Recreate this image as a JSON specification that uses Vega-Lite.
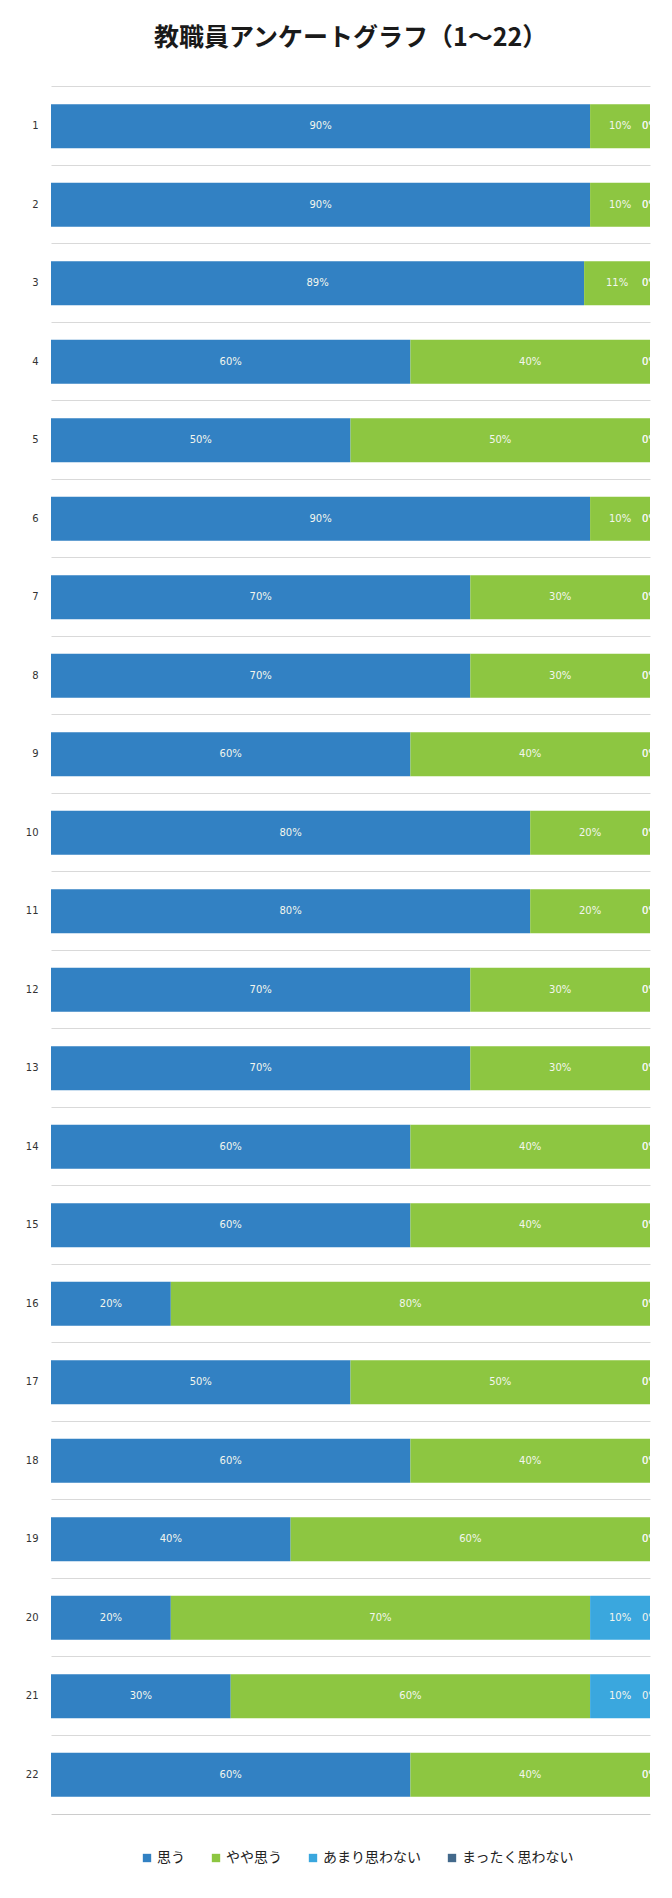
{
  "$schema": "https://vega.github.io/schema/vega-lite/v6.json",
  "autosize": "none",
  "width": 599,
  "height": 1727,
  "padding": {"left": 51, "top": 87, "right": 22, "bottom": 84},
  "background": "white",
  "title": {
    "text": "教職員アンケートグラフ（1～22）",
    "font": "Noto Sans CJK JP",
    "fontSize": 25,
    "fontWeight": "bold",
    "color": "#1a1a1a",
    "anchor": "middle",
    "offset": 36
  },
  "data": {
    "values": [
      {"q": "1", "cat": "思う", "o": 1, "v": 0.9}, {"q": "1", "cat": "やや思う", "o": 2, "v": 0.1}, {"q": "1", "cat": "あまり思わない", "o": 3, "v": 0}, {"q": "1", "cat": "まったく思わない", "o": 4, "v": 0},
      {"q": "2", "cat": "思う", "o": 1, "v": 0.9}, {"q": "2", "cat": "やや思う", "o": 2, "v": 0.1}, {"q": "2", "cat": "あまり思わない", "o": 3, "v": 0}, {"q": "2", "cat": "まったく思わない", "o": 4, "v": 0},
      {"q": "3", "cat": "思う", "o": 1, "v": 0.89}, {"q": "3", "cat": "やや思う", "o": 2, "v": 0.11}, {"q": "3", "cat": "あまり思わない", "o": 3, "v": 0}, {"q": "3", "cat": "まったく思わない", "o": 4, "v": 0},
      {"q": "4", "cat": "思う", "o": 1, "v": 0.6}, {"q": "4", "cat": "やや思う", "o": 2, "v": 0.4}, {"q": "4", "cat": "あまり思わない", "o": 3, "v": 0}, {"q": "4", "cat": "まったく思わない", "o": 4, "v": 0},
      {"q": "5", "cat": "思う", "o": 1, "v": 0.5}, {"q": "5", "cat": "やや思う", "o": 2, "v": 0.5}, {"q": "5", "cat": "あまり思わない", "o": 3, "v": 0}, {"q": "5", "cat": "まったく思わない", "o": 4, "v": 0},
      {"q": "6", "cat": "思う", "o": 1, "v": 0.9}, {"q": "6", "cat": "やや思う", "o": 2, "v": 0.1}, {"q": "6", "cat": "あまり思わない", "o": 3, "v": 0}, {"q": "6", "cat": "まったく思わない", "o": 4, "v": 0},
      {"q": "7", "cat": "思う", "o": 1, "v": 0.7}, {"q": "7", "cat": "やや思う", "o": 2, "v": 0.3}, {"q": "7", "cat": "あまり思わない", "o": 3, "v": 0}, {"q": "7", "cat": "まったく思わない", "o": 4, "v": 0},
      {"q": "8", "cat": "思う", "o": 1, "v": 0.7}, {"q": "8", "cat": "やや思う", "o": 2, "v": 0.3}, {"q": "8", "cat": "あまり思わない", "o": 3, "v": 0}, {"q": "8", "cat": "まったく思わない", "o": 4, "v": 0},
      {"q": "9", "cat": "思う", "o": 1, "v": 0.6}, {"q": "9", "cat": "やや思う", "o": 2, "v": 0.4}, {"q": "9", "cat": "あまり思わない", "o": 3, "v": 0}, {"q": "9", "cat": "まったく思わない", "o": 4, "v": 0},
      {"q": "10", "cat": "思う", "o": 1, "v": 0.8}, {"q": "10", "cat": "やや思う", "o": 2, "v": 0.2}, {"q": "10", "cat": "あまり思わない", "o": 3, "v": 0}, {"q": "10", "cat": "まったく思わない", "o": 4, "v": 0},
      {"q": "11", "cat": "思う", "o": 1, "v": 0.8}, {"q": "11", "cat": "やや思う", "o": 2, "v": 0.2}, {"q": "11", "cat": "あまり思わない", "o": 3, "v": 0}, {"q": "11", "cat": "まったく思わない", "o": 4, "v": 0},
      {"q": "12", "cat": "思う", "o": 1, "v": 0.7}, {"q": "12", "cat": "やや思う", "o": 2, "v": 0.3}, {"q": "12", "cat": "あまり思わない", "o": 3, "v": 0}, {"q": "12", "cat": "まったく思わない", "o": 4, "v": 0},
      {"q": "13", "cat": "思う", "o": 1, "v": 0.7}, {"q": "13", "cat": "やや思う", "o": 2, "v": 0.3}, {"q": "13", "cat": "あまり思わない", "o": 3, "v": 0}, {"q": "13", "cat": "まったく思わない", "o": 4, "v": 0},
      {"q": "14", "cat": "思う", "o": 1, "v": 0.6}, {"q": "14", "cat": "やや思う", "o": 2, "v": 0.4}, {"q": "14", "cat": "あまり思わない", "o": 3, "v": 0}, {"q": "14", "cat": "まったく思わない", "o": 4, "v": 0},
      {"q": "15", "cat": "思う", "o": 1, "v": 0.6}, {"q": "15", "cat": "やや思う", "o": 2, "v": 0.4}, {"q": "15", "cat": "あまり思わない", "o": 3, "v": 0}, {"q": "15", "cat": "まったく思わない", "o": 4, "v": 0},
      {"q": "16", "cat": "思う", "o": 1, "v": 0.2}, {"q": "16", "cat": "やや思う", "o": 2, "v": 0.8}, {"q": "16", "cat": "あまり思わない", "o": 3, "v": 0}, {"q": "16", "cat": "まったく思わない", "o": 4, "v": 0},
      {"q": "17", "cat": "思う", "o": 1, "v": 0.5}, {"q": "17", "cat": "やや思う", "o": 2, "v": 0.5}, {"q": "17", "cat": "あまり思わない", "o": 3, "v": 0}, {"q": "17", "cat": "まったく思わない", "o": 4, "v": 0},
      {"q": "18", "cat": "思う", "o": 1, "v": 0.6}, {"q": "18", "cat": "やや思う", "o": 2, "v": 0.4}, {"q": "18", "cat": "あまり思わない", "o": 3, "v": 0}, {"q": "18", "cat": "まったく思わない", "o": 4, "v": 0},
      {"q": "19", "cat": "思う", "o": 1, "v": 0.4}, {"q": "19", "cat": "やや思う", "o": 2, "v": 0.6}, {"q": "19", "cat": "あまり思わない", "o": 3, "v": 0}, {"q": "19", "cat": "まったく思わない", "o": 4, "v": 0},
      {"q": "20", "cat": "思う", "o": 1, "v": 0.2}, {"q": "20", "cat": "やや思う", "o": 2, "v": 0.7}, {"q": "20", "cat": "あまり思わない", "o": 3, "v": 0.1}, {"q": "20", "cat": "まったく思わない", "o": 4, "v": 0},
      {"q": "21", "cat": "思う", "o": 1, "v": 0.3}, {"q": "21", "cat": "やや思う", "o": 2, "v": 0.6}, {"q": "21", "cat": "あまり思わない", "o": 3, "v": 0.1}, {"q": "21", "cat": "まったく思わない", "o": 4, "v": 0},
      {"q": "22", "cat": "思う", "o": 1, "v": 0.6}, {"q": "22", "cat": "やや思う", "o": 2, "v": 0.4}, {"q": "22", "cat": "あまり思わない", "o": 3, "v": 0}, {"q": "22", "cat": "まったく思わない", "o": 4, "v": 0}
    ]
  },
  "transform": [
    {"stack": "v", "groupby": ["q"], "sort": [{"field": "o", "order": "ascending"}], "as": ["x0", "x1"]},
    {"calculate": "(datum.x0 + datum.x1) / 2", "as": "xm"}
  ],
  "encoding": {
    "y": {
      "field": "q",
      "type": "ordinal",
      "sort": null,
      "scale": {"paddingInner": 0.44, "paddingOuter": 0.22},
      "axis": {
        "title": null,
        "ticks": false,
        "domain": false,
        "labelPadding": 13,
        "labelFont": "DejaVu Sans",
        "labelFontSize": 10,
        "labelColor": "#333333",
        "grid": true,
        "gridColor": "#d9d9d9",
        "gridWidth": 1,
        "bandPosition": -0.393
      }
    }
  },
  "layer": [
    {
      "mark": {"type": "bar"},
      "encoding": {
        "x": {
          "field": "x0",
          "type": "quantitative",
          "scale": {"domain": [0, 1], "nice": false},
          "axis": {"title": null, "labels": false, "ticks": false, "grid": false, "domain": true, "domainColor": "#cccccc"}
        },
        "x2": {"field": "x1"},
        "color": {
          "field": "cat",
          "type": "nominal",
          "scale": {
            "domain": ["思う", "やや思う", "あまり思わない", "まったく思わない"],
            "range": ["#3281c3", "#8dc641", "#3aa7de", "#43698b"]
          },
          "legend": {
            "title": null,
            "orient": "none",
            "direction": "horizontal",
            "legendX": 89,
            "legendY": 1764,
            "symbolType": "square",
            "symbolSize": 70,
            "symbolStrokeWidth": 0,
            "labelFont": "Noto Sans CJK JP",
            "labelFontSize": 14,
            "labelColor": "#222222",
            "labelOffset": 3,
            "columnPadding": 24
          }
        }
      }
    },
    {
      "mark": {"type": "text", "clip": true, "fontSize": 10, "font": "DejaVu Sans", "color": "#f3f6ee"},
      "encoding": {
        "x": {"field": "xm", "type": "quantitative"},
        "text": {"field": "v", "type": "quantitative", "format": ".0%"}
      }
    }
  ],
  "config": {
    "view": {"stroke": null}
  }
}
